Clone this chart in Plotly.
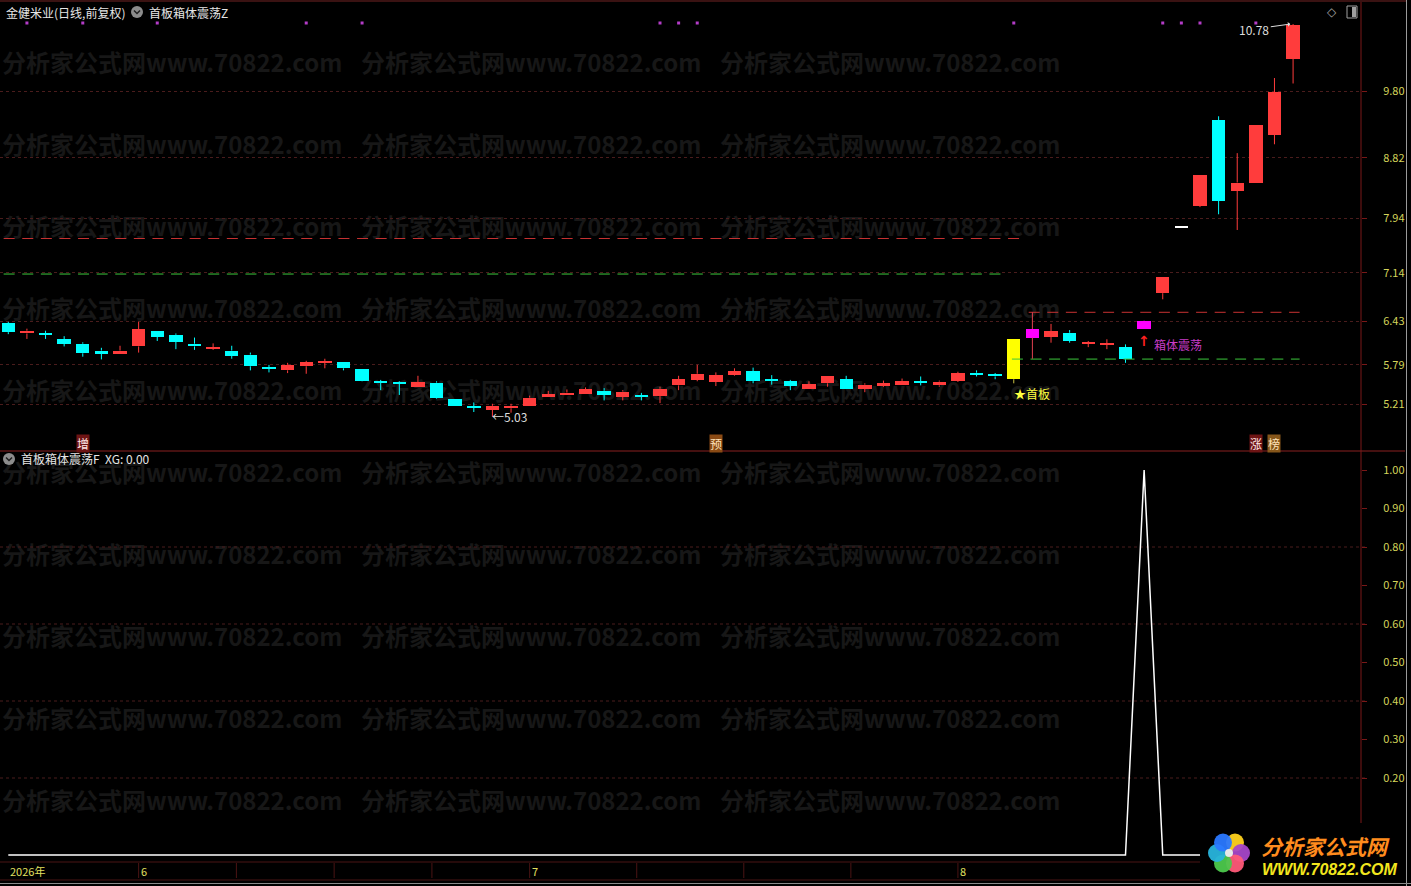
import math
import plotly.graph_objects as go
import pandas as pd

# ---------------- data ----------------
stock_title = "金健米业(日线,前复权)"
ind_main = "首板箱体震荡Z"
ind_sub = "首板箱体震荡F"
sub_value_text = "XG: 0.00"

_days = pd.bdate_range("2026-05-21", "2026-08-27")
_days = _days[_days != pd.Timestamp("2026-06-19")]   # Dragon Boat holiday
dates = [d.strftime("%Y-%m-%d") for d in _days]

open_ = [6.40, 6.25, 6.24, 6.165, 6.10, 6.00, 5.95, 6.06, 6.28, 6.23,
         6.10, 6.03, 6.00, 5.94, 5.745, 5.71, 5.77, 5.83, 5.83, 5.73,
         5.535, 5.525, 5.46, 5.53, 5.29, 5.17, 5.13, 5.155, 5.19, 5.32,
         5.345, 5.37, 5.41, 5.325, 5.33, 5.34, 5.49, 5.57, 5.54, 5.64,
         5.70, 5.57, 5.555, 5.44, 5.52, 5.58, 5.44, 5.485, 5.49, 5.53,
         5.49, 5.56, 5.675, 5.655, 5.58, 6.19, 6.20, 6.26, 6.10, 6.095,
         6.05, 6.31, 6.84, 7.79, 8.12, 9.375, 8.34, 8.45, 9.16, 10.27]
high = [6.42, 6.32, 6.29, 6.21, 6.12, 6.04, 6.07, 6.42, 6.28, 6.25,
        6.19, 6.105, 6.07, 5.97, 5.79, 5.82, 5.85, 5.88, 5.83, 5.73,
        5.57, 5.55, 5.63, 5.55, 5.29, 5.24, 5.22, 5.22, 5.34, 5.41,
        5.43, 5.46, 5.45, 5.42, 5.38, 5.47, 5.63, 5.79, 5.68, 5.74,
        5.75, 5.64, 5.57, 5.55, 5.63, 5.63, 5.52, 5.56, 5.59, 5.62,
        5.56, 5.69, 5.71, 5.67, 6.17, 6.56, 6.39, 6.30, 6.14, 6.165,
        6.09, 6.44, 7.08, 7.79, 8.57, 9.43, 8.89, 9.30, 9.99, 10.78]
low = [6.24, 6.17, 6.17, 6.06, 5.91, 5.87, 5.95, 5.97, 6.14, 6.02,
       6.01, 6.01, 5.88, 5.71, 5.68, 5.67, 5.66, 5.74, 5.71, 5.55,
       5.42, 5.35, 5.46, 5.29, 5.19, 5.10, 5.03, 5.09, 5.19, 5.32,
       5.345, 5.37, 5.27, 5.27, 5.27, 5.23, 5.42, 5.55, 5.48, 5.63,
       5.52, 5.50, 5.42, 5.44, 5.47, 5.44, 5.39, 5.47, 5.49, 5.49,
       5.47, 5.54, 5.62, 5.58, 5.52, 5.88, 6.115, 6.115, 6.05, 6.02,
       5.82, 6.31, 6.75, 7.79, 8.10, 7.995, 7.765, 8.45, 9.02, 9.91]
close = [6.27, 6.29, 6.235, 6.10, 5.96, 5.955, 6.00, 6.315, 6.20, 6.13,
         6.06, 6.035, 5.925, 5.77, 5.74, 5.79, 5.83, 5.835, 5.74, 5.56,
         5.53, 5.52, 5.54, 5.30, 5.19, 5.165, 5.19, 5.19, 5.31, 5.36,
         5.385, 5.43, 5.35, 5.40, 5.325, 5.44, 5.58, 5.66, 5.64, 5.70,
         5.56, 5.565, 5.485, 5.51, 5.63, 5.44, 5.50, 5.52, 5.555, 5.525,
         5.545, 5.67, 5.65, 5.62, 6.17, 6.315, 6.285, 6.145, 6.105, 6.10,
         5.87, 6.435, 7.08, 7.79, 8.57, 8.19, 8.46, 9.30, 9.78, 10.76]
xg = [0, 0, 0, 0, 0, 0, 0, 0, 0, 0,
      0, 0, 0, 0, 0, 0, 0, 0, 0, 0,
      0, 0, 0, 0, 0, 0, 0, 0, 0, 0,
      0, 0, 0, 0, 0, 0, 0, 0, 0, 0,
      0, 0, 0, 0, 0, 0, 0, 0, 0, 0,
      0, 0, 0, 0, 0, 0, 0, 0, 0, 0,
      0, 1, 0, 0, 0, 0, 0, 0, 0, 0]

price_ticks = [5.21, 5.79, 6.43, 7.14, 7.94, 8.82, 9.80]
xg_ticks = [0.20, 0.30, 0.40, 0.50, 0.60, 0.70, 0.80, 0.90, 1.00]
xg_grid = [0.20, 0.40, 0.60, 0.80]

old_box_top, old_box_bot = 7.64, 7.12
old_box_top_x, old_box_bot_x = [-0.25, 54.35], [-0.25, 53.35]
box_top, box_bot = 6.56, 5.875
box_top_x, box_bot_x = [54.8, 69.35], [53.9, 69.35]

first_board_idx = 54
box_signal_idx = [55, 61]
one_word_idx = 63
top_dot_idx = [1, 4, 8, 16, 19, 35, 36, 37, 54, 62, 63, 64, 67]
badge_idx = [4, 38, 67, 68]
badge_text = ["增", "预", "涨", "榜"]
low_mark_idx, low_mark_val = 26, 5.03
high_mark_idx, high_mark_val = 69, 10.78
first_board_label = "★首板"
box_label = "箱体震荡"

# ---------------- geometry / style ----------------
W, H = 1411, 886
PLOT_R = 1361
XPX0, XPU = 8.3, 18.62
P_REF, P_REF_PX, P_SCALE = 9.80, 91.0, 68.3
XG_ZERO_PX, XG_SCALE = 855.0, 385.0
TOP_PX = (3, 450)
BOT_PX = (453, 860)

RED = "#ff3c3c"
CYAN = "#00ffff"
YELLOW = "#ffff00"
MAGENTA = "#ff00ff"
WHITE = "#ffffff"
AXIS_RED = "#7a1818"
GRID_RED = "#4a1c1c"
LABEL_YEL = "#d4d45a"
CJK = "Noto Sans CJK SC"
WM_COL = "#171717"


def px_x(px):
    return (px - XPX0) / XPU


def price_at(py):
    return P_REF - (py - P_REF_PX) / P_SCALE


def xg_at(py):
    return (XG_ZERO_PX - py) / XG_SCALE


def pyp(py):
    return 1 - py / H


def pxp(px):
    return px / W


n = len(close)
idx = list(range(n))
x_range = [px_x(0), px_x(PLOT_R)]

fig = go.Figure()
shapes = []
ann = []

# watermark text (below all traces, as shape labels)
wm_text = "分析家公式网www.70822.com"
wm_cols = [-1, 358, 717]
wm_rows = [65, 147, 229, 311, 393, 475, 557, 639, 721, 803]
for r in wm_rows:
    for c in wm_cols:
        shapes.append(dict(type="rect", xref="paper", yref="paper",
                           x0=pxp(c), x1=pxp(c + 345), y0=pyp(r + 14), y1=pyp(r - 14),
                           line=dict(width=0), fillcolor="rgba(0,0,0,0)", layer="below",
                           label=dict(text=wm_text, textposition="middle left", padding=0,
                                      font=dict(family=CJK, size=24, color=WM_COL, weight="bold"))))

# box lines
DASH = "11px,7.6px"
for xs, lvl, col in [(old_box_top_x, old_box_top, "#c83232"),
                     (old_box_bot_x, old_box_bot, "#3cc83c"),
                     (box_top_x, box_top, "#c83232"),
                     (box_bot_x, box_bot, "#3cc83c")]:
    fig.add_trace(go.Scatter(x=xs, y=[lvl, lvl], mode="lines",
                             line=dict(color=col, width=1, dash=DASH),
                             hoverinfo="skip", showlegend=False))

# candle colours
body_col = []
for i in idx:
    if i == first_board_idx:
        c = YELLOW
    elif i in box_signal_idx:
        c = MAGENTA
    elif i == one_word_idx:
        c = WHITE
    else:
        c = RED if close[i] >= open_[i] else CYAN
    body_col.append(c)
wick_col = list(body_col)
wick_col[box_signal_idx[0]] = "#e04050"
wick_col[first_board_idx] = "#c8c040"

base = [min(open_[i], close[i]) for i in idx]
top = [max(open_[i], close[i]) for i in idx]

# wicks (upper and lower shadows only, so bodies stay clean)
groups = {}
for i in idx:
    gx, gy = groups.setdefault(wick_col[i], ([], []))
    if high[i] > top[i]:
        gx += [i, i, None]
        gy += [top[i], high[i], None]
    if low[i] < base[i]:
        gx += [i, i, None]
        gy += [low[i], base[i], None]
for col, (gx, gy) in groups.items():
    fig.add_trace(go.Scatter(x=gx, y=gy, mode="lines",
                             line=dict(color=col, width=1),
                             hoverinfo="skip", showlegend=False))

# bodies
hgt = [max(top[i] - base[i], 0.018) for i in idx]
hgt[one_word_idx] = 0.03
fig.add_trace(go.Bar(x=idx, y=hgt, base=base, width=0.72,
                     marker=dict(color=body_col, line=dict(width=0)),
                     hoverinfo="skip", showlegend=False))

# top dots
fig.add_trace(go.Scatter(x=top_dot_idx, y=[price_at(23)] * len(top_dot_idx),
                         mode="markers",
                         marker=dict(symbol="square", size=3, color="#b43cc8", line=dict(width=0)),
                         hoverinfo="skip", showlegend=False, cliponaxis=False))

# sub indicator
fig.add_trace(go.Scatter(x=idx, y=xg, mode="lines", line=dict(color=WHITE, width=1.5),
                         hoverinfo="skip", showlegend=False, xaxis="x2", yaxis="y2"))

# horizontal grid lines in sub panel
for g in xg_grid:
    shapes.append(dict(type="line", xref="paper", yref="y2", x0=0, x1=pxp(PLOT_R + 6),
                       y0=g, y1=g, line=dict(color=GRID_RED, width=1, dash="dot"), layer="below"))

# frame lines
shapes.append(dict(type="rect", xref="paper", yref="paper", x0=0, x1=1, y0=pyp(2), y1=1,
                   fillcolor="#3a1212", line=dict(width=0)))
shapes.append(dict(type="line", xref="paper", yref="paper", x0=0, x1=pxp(1405),
                   y0=pyp(451), y1=pyp(451), line=dict(color="#8a2020", width=1)))
shapes.append(dict(type="line", xref="paper", yref="paper", x0=pxp(PLOT_R), x1=pxp(PLOT_R),
                   y0=pyp(880), y1=pyp(2), line=dict(color=AXIS_RED, width=1)))
for yy in (862, 880):
    shapes.append(dict(type="line", xref="paper", yref="paper", x0=0, x1=pxp(PLOT_R),
                       y0=pyp(yy), y1=pyp(yy), line=dict(color="#4a1414", width=1)))

# date axis (month starts and quarter ticks)
months = [d[:7] for d in dates]
month_starts = [i for i in idx if i > 0 and months[i] != months[i - 1]]
bounds = month_starts + [n]
tick_pos = []
for a, b in zip(bounds[:-1], bounds[1:]):
    if b == n:
        tick_pos.append(a)
        break
    step = (b - a) / 4
    tick_pos += [a + k * step for k in range(4)]
for tp in tick_pos:
    shapes.append(dict(type="line", xref="x2", yref="paper", x0=tp, x1=tp,
                       y0=pyp(878), y1=pyp(863), line=dict(color="#4a1414", width=1)))
date_labels = [(0, dates[0][:4] + "年")] + [(i, str(int(dates[i][5:7]))) for i in month_starts]
for i, t in date_labels:
    ann.append(dict(x=i, xref="x2", y=pyp(871), yref="paper",
                    text=t, showarrow=False, xanchor="left", yanchor="middle", xshift=0,
                    font=dict(family=CJK, size=11, color="#e0e060")))

# titles
ann.append(dict(x=pxp(4), y=pyp(12), xref="paper", yref="paper", text=stock_title,
                showarrow=False, xanchor="left", yanchor="middle",
                font=dict(family=CJK, size=12, color="#e6e6e6")))
ann.append(dict(x=pxp(147), y=pyp(12), xref="paper", yref="paper", text=ind_main,
                showarrow=False, xanchor="left", yanchor="middle",
                font=dict(family=CJK, size=12, color="#e6e6e6")))
ann.append(dict(x=pxp(19), y=pyp(459), xref="paper", yref="paper",
                text=ind_sub + "  " + sub_value_text,
                showarrow=False, xanchor="left", yanchor="middle",
                font=dict(family=CJK, size=12, color="#e6e6e6")))
for cx, cy in [(137, 12), (9, 459)]:
    shapes.append(dict(type="circle", xref="paper", yref="paper",
                       x0=pxp(cx - 6), x1=pxp(cx + 6), y0=pyp(cy + 6), y1=pyp(cy - 6),
                       fillcolor="#8c8c8c", line=dict(width=0)))
    shapes.append(dict(type="path", xref="paper", yref="paper",
                       path=f"M {pxp(cx-3)},{pyp(cy-1.5)} L {pxp(cx)},{pyp(cy+1.5)} L {pxp(cx+3)},{pyp(cy-1.5)}",
                       line=dict(color="#202020", width=1.5)))

# top-right icons
ann.append(dict(x=pxp(1332), y=pyp(12), xref="paper", yref="paper", text="◇", showarrow=False,
                xanchor="center", yanchor="middle",
                font=dict(family="DejaVu Sans", size=12, color="#a0a0a0")))
shapes.append(dict(type="rect", xref="paper", yref="paper", x0=pxp(1347), x1=pxp(1357),
                   y0=pyp(18), y1=pyp(6), line=dict(color="#a0a0a0", width=1)))
shapes.append(dict(type="rect", xref="paper", yref="paper", x0=pxp(1352), x1=pxp(1356),
                   y0=pyp(17), y1=pyp(7), fillcolor="#a0a0a0", line=dict(width=0)))

# badges
badge_bg = {"增": "#6e1414", "预": "#8a4a14", "涨": "#6e1414", "榜": "#86561a"}
badge_fg = {"增": "#ffe6e6", "预": "#ffe2b8", "涨": "#ffe6e6", "榜": "#ffe2b8"}
for i, t in zip(badge_idx, badge_text):
    ann.append(dict(x=i, xref="x", y=pyp(443), yref="paper", text=t, showarrow=False,
                    xanchor="center", bgcolor=badge_bg[t], borderpad=0,
                    font=dict(family=CJK, size=12, color=badge_fg[t])))

# price marks
ann.append(dict(x=px_x(490), xref="x", y=low_mark_val, yref="y", text="←" + f"{low_mark_val:.2f}",
                showarrow=False, xanchor="left", yanchor="middle",
                font=dict(family=CJK, size=12, color="#dcdcdc")))
ann.append(dict(x=high_mark_idx - 0.15, xref="x", y=high_mark_val, yref="y",
                text=f"{high_mark_val:.2f}", showarrow=True, ax=-36, ay=5,
                arrowhead=1, arrowsize=0.8, arrowwidth=1, arrowcolor="#dcdcdc",
                font=dict(family=CJK, size=12, color="#dcdcdc")))
ann.append(dict(x=first_board_idx - 0.1, xref="x", y=price_at(394), yref="y", text=first_board_label,
                showarrow=False, xanchor="left", yanchor="middle",
                font=dict(family=CJK, size=12, color="#ffff40")))
ann.append(dict(x=box_signal_idx[1], xref="x", y=price_at(341), yref="y", text="↑",
                showarrow=False, xanchor="center", yanchor="middle",
                font=dict(family="DejaVu Sans", size=14, color="#ff2020", weight="bold")))
ann.append(dict(x=box_signal_idx[1] + 0.4, xref="x", y=price_at(345), yref="y", text=box_label,
                showarrow=False, xanchor="left", yanchor="middle",
                font=dict(family=CJK, size=12, color="#c83cc8")))

# logo
shapes.append(dict(type="rect", xref="paper", yref="paper", x0=pxp(1200), x1=pxp(1405),
                   y0=pyp(883), y1=pyp(823), fillcolor="#000000", line=dict(width=0), layer="above"))
petals = ["#ffd21e", "#a546c8", "#ff5a78", "#4cc84c", "#28b4dc", "#2a78ff"]
for k, col in enumerate(petals):
    ang = math.radians(60 - k * 60)
    cx = 1229 + 12 * math.cos(ang)
    cy = 853 - 12 * math.sin(ang)
    shapes.append(dict(type="circle", xref="paper", yref="paper",
                       x0=pxp(cx - 9), x1=pxp(cx + 9), y0=pyp(cy + 9), y1=pyp(cy - 9),
                       fillcolor=col, line=dict(width=0), layer="above", opacity=0.95))
shapes.append(dict(type="circle", xref="paper", yref="paper",
                   x0=pxp(1225), x1=pxp(1233), y0=pyp(857), y1=pyp(849),
                   fillcolor="#e8e8e8", line=dict(width=0), layer="above"))
ann.append(dict(x=pxp(1259), y=pyp(846), xref="paper", yref="paper", text="<i>分析家公式网</i>",
                showarrow=False, xanchor="left", yanchor="middle",
                font=dict(family=CJK, size=21, color="#ff8c1e", weight="bold")))
ann.append(dict(x=pxp(1260), y=pyp(869), xref="paper", yref="paper", text="<i>WWW.70822.COM</i>",
                showarrow=False, xanchor="left", yanchor="middle",
                font=dict(family="Liberation Sans", size=16, color="#f2e61e", weight="bold")))

# window edges
shapes.append(dict(type="rect", xref="paper", yref="paper", x0=pxp(1406), x1=1,
                   y0=0, y1=1, fillcolor="#000000", line=dict(width=0), layer="above"))
shapes.append(dict(type="line", xref="paper", yref="paper", x0=pxp(1406.5), x1=pxp(1406.5),
                   y0=0, y1=1, line=dict(color="#9a9a9a", width=1), layer="above"))
shapes.append(dict(type="line", xref="paper", yref="paper", x0=0, x1=1,
                   y0=pyp(883.5), y1=pyp(883.5), line=dict(color="#8a8a8a", width=1), layer="above"))

fig.update_layout(
    width=W, height=H, margin=dict(l=0, r=0, t=0, b=0),
    paper_bgcolor="#000000", plot_bgcolor="rgba(0,0,0,0)",
    showlegend=False, bargap=0,
    xaxis=dict(domain=[0, pxp(PLOT_R)], range=x_range, visible=False, anchor="y"),
    xaxis2=dict(domain=[0, pxp(PLOT_R)], range=x_range, visible=False, anchor="y2", matches="x"),
    yaxis=dict(domain=[pyp(TOP_PX[1]), pyp(TOP_PX[0])], range=[price_at(TOP_PX[1]), price_at(TOP_PX[0])],
               side="right", anchor="x", tickmode="array", tickvals=price_ticks,
               ticktext=[f"{v:.2f}" for v in price_ticks],
               ticks="outside", ticklen=5, tickcolor=AXIS_RED, ticklabelstandoff=14,
               showgrid=True, gridcolor=GRID_RED, griddash="dot", gridwidth=1,
               zeroline=False, showline=False,
               tickfont=dict(family=CJK, size=11, color=LABEL_YEL)),
    yaxis2=dict(domain=[pyp(BOT_PX[1]), pyp(BOT_PX[0])], range=[xg_at(BOT_PX[1]), xg_at(BOT_PX[0])],
                side="right", anchor="x2", tickmode="array", tickvals=xg_ticks,
                ticktext=[f"{v:.2f}" for v in xg_ticks],
                ticks="outside", ticklen=5, tickcolor=AXIS_RED, ticklabelstandoff=14,
                showgrid=False, zeroline=False, showline=False,
                tickfont=dict(family=CJK, size=11, color=LABEL_YEL)),
    shapes=shapes, annotations=ann,
)

fig.write_html("out.html", config={"displayModeBar": False},
               post_script="document.body.style.margin='0px';document.body.style.background='#000';")
